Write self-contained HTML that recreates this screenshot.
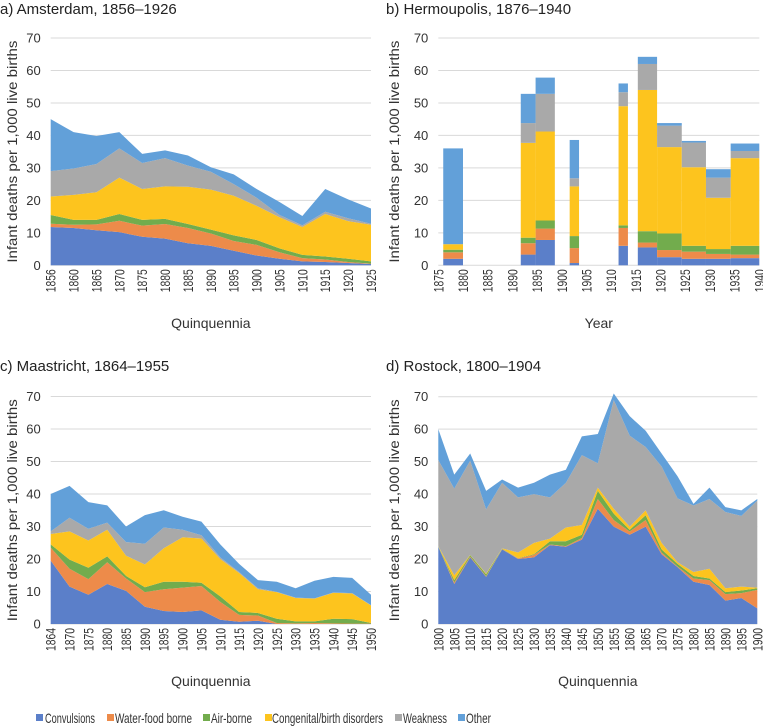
<!DOCTYPE html>
<html><head><meta charset="utf-8"><style>
html,body{margin:0;padding:0;background:#fff;}
svg{display:block;font-family:"Liberation Sans",sans-serif;}
</style></head><body>
<svg id="chart" width="763" height="726" viewBox="0 0 763 726" xmlns="http://www.w3.org/2000/svg"></svg>
<script>
const causes = ["Convulsions","Water-food borne","Air-borne","Congenital/birth disorders","Weakness","Other"];
const colors = ["#5b7fc9","#ed8b4a","#72ac4d","#fdc41e","#a9a9a9","#62a0d9"];
const yTicks = [0,10,20,30,40,50,60,70];

// Amsterdam (cumulative stacked tops, per cause)
const amsCats = ["1856","1860","1865","1870","1875","1880","1885","1890","1895","1900","1905","1910","1915","1920","1925"];
const amsConv  = [11.8,11.5,10.8,10.2,8.8,8.2,6.8,6.0,4.5,3.0,2.0,1.2,1.0,0.7,0.4];
const amsWater = [12.8,12.5,12.6,13.7,12.2,12.7,11.5,9.8,7.5,6.3,4.0,2.2,1.8,1.0,0.5];
const amsAir   = [15.5,14.0,14.0,15.8,14.0,14.3,12.7,11.0,9.2,7.8,5.2,3.2,2.7,2.0,1.2];
const amsCong  = [21.2,21.7,22.5,27.0,23.5,24.3,24.2,23.3,21.4,18.3,14.8,11.8,15.8,13.6,12.5];
const amsWeak  = [29.0,29.8,31.2,36.0,31.5,33.0,30.7,28.8,25.0,20.8,15.5,12.3,16.5,14.5,12.8];
const amsOther = [45.0,41.0,39.8,41.0,34.3,35.4,33.8,30.2,28.0,23.5,19.5,15.2,23.5,20.3,17.5];

// Hermoupolis (year spans, cumulative tops)
const herStart = [1876,1891.7,1894.7,1901.6,1911.5,1915.4,1919.3,1924.3,1929.2,1934.2];
const herEnd   = [1880,1894.7,1898.6,1903.5,1913.4,1919.3,1924.3,1929.2,1934.2,1940];
const herConv  = [2.0,3.3,7.8,0.7,6.0,5.5,2.5,2.0,2.0,2.2];
const herWater = [4.0,6.8,11.3,5.3,11.5,7.0,4.7,4.2,3.5,3.3];
const herAir   = [4.8,8.5,13.8,9.0,12.3,10.5,9.8,6.0,5.0,6.0];
const herCong  = [6.5,37.7,41.2,24.3,49.0,54.0,36.4,30.2,20.8,33.0];
const herWeak  = [6.5,43.8,52.8,26.8,53.3,62.0,43.0,37.8,27.0,35.2];
const herOther = [36.0,52.8,57.8,38.6,56.0,64.2,43.8,38.3,29.6,37.5];
const herTicks = [1875,1880,1885,1890,1895,1900,1905,1910,1915,1920,1925,1930,1935,1940];

// Maastricht
const maaCats = ["1864","1870","1875","1880","1885","1890","1895","1900","1905","1910","1915","1920","1925","1930","1935","1940","1945","1950"];
const maaConv  = [19.5,11.5,9.0,12.3,10.2,5.3,4.0,3.7,4.2,1.3,0.7,1.0,0,0,0,0,0,0];
const maaWater = [23.5,17.0,13.8,19.0,14.0,9.8,10.7,11.2,11.7,6.8,2.8,2.6,0.3,0.2,0.3,0.2,0.1,0.1];
const maaAir   = [24.5,19.8,17.3,20.8,14.8,11.3,13.0,13.0,12.7,8.5,3.7,3.4,1.6,0.8,0.8,1.6,1.5,0.3];
const maaCong  = [27.7,28.5,25.7,29.0,21.0,18.3,23.3,26.7,26.3,20.0,15.7,10.7,9.8,8.0,7.8,9.6,9.4,5.7];
const maaWeak  = [28.5,32.7,29.3,31.2,25.2,24.7,29.7,29.0,27.3,20.5,16.0,11.0,9.9,8.1,7.9,9.7,9.5,5.8];
const maaOther = [40.0,42.5,37.5,36.5,30.0,33.5,35.0,33.0,31.5,24.5,18.5,13.5,13.0,11.0,13.3,14.5,14.2,9.0];

// Rostock
const rosCats = ["1800","1805","1810","1815","1820","1825","1830","1835","1840","1845","1850","1855","1860","1865","1870","1875","1880","1885","1890","1895","1900"];
const rosConv  = [23.8,12.3,20.5,14.5,23.0,20.0,20.5,24.3,23.8,26.0,35.5,30.0,27.5,30.0,21.5,17.5,13.0,12.0,7.2,8.0,4.8];
const rosWater = [23.8,12.8,20.8,14.7,23.1,20.2,21.3,24.5,24.0,26.5,38.5,32.0,28.5,32.0,22.0,17.7,14.0,13.5,9.2,9.5,10.5];
const rosAir   = [23.9,13.5,21.2,15.3,23.2,20.3,21.5,25.5,25.5,27.5,41.0,34.0,29.0,33.5,23.0,18.5,14.8,14.0,9.8,10.3,11.0];
const rosCong  = [24.0,15.0,21.3,15.5,23.3,22.0,25.0,26.3,29.7,30.5,42.0,35.5,30.0,35.0,25.0,19.0,16.0,17.0,11.0,11.5,11.2];
const rosWeak  = [50.5,41.7,50.3,35.3,43.5,39.0,40.0,39.0,43.5,52.0,49.5,69.0,58.0,54.5,48.5,38.7,36.5,38.5,34.5,33.3,38.0];
const rosOther = [60.0,46.0,52.5,41.0,44.5,42.0,43.5,46.0,47.5,57.8,58.5,71.0,64.0,59.5,52.5,45.5,37.0,42.0,36.0,35.0,38.5];

const NS = "http://www.w3.org/2000/svg";
const svg = document.getElementById("chart");
function mk(tag, attrs, parent, txt){
  const e = document.createElementNS(NS, tag);
  for (const k in attrs) e.setAttribute(k, attrs[k]);
  if (txt !== undefined) e.textContent = txt;
  (parent || svg).appendChild(e);
  return e;
}
const slug = s => s.toLowerCase().replace(/[^a-z0-9]+/g,'-').replace(/-$/,'');

function frame(p){
  const g = mk("g", {});
  
  
  const t = mk("text", {x:p.tx, y:p.ty, "font-size":15, fill:"#222"}, g, p.title);
  
  
  const y = v => p.y0 - v * (p.y0 - p.y70) / 70;
  yTicks.forEach(v => {
    const l = mk("line", {x1:p.x0, x2:p.x1, y1:y(v), y2:y(v), stroke:"#d9d9d9", "stroke-width":1}, g);
    
    
    const tl = mk("text", {x:p.x0 - 10, y:y(v) + 4.5, "font-size":13, "text-anchor":"end", fill:"#333"}, g, String(v));
    
    
  });
  const yt = mk("text", {transform:`translate(${p.yx},${(p.y0+p.y70)/2}) rotate(-90)`, "font-size":13.5, "text-anchor":"middle", fill:"#333", textLength:222, lengthAdjust:"spacingAndGlyphs"}, g, "Infant deaths per 1,000 live births");
  
  
  const xt = mk("text", {x:(p.x0+p.x1)/2, y:p.xty, "font-size":14, "text-anchor":"middle", fill:"#333"}, g, p.xtitle);
  
  
  return {g, y};
}
function xLabel(g, x, y0, label){
  const t = mk("text", {transform:`translate(${x+5},${y0+4}) rotate(-90)`, "font-size":14, "text-anchor":"end", fill:"#333", textLength:23, lengthAdjust:"spacingAndGlyphs"}, g, label);
  
  
}
function areaPanel(p, cats, series){
  const {g, y} = frame(p);
  const n = cats.length;
  const x = i => p.x0 + i * (p.x1 - p.x0) / (n - 1);
  series.forEach((s, k) => {
    const prev = k === 0 ? cats.map(() => 0) : series[k-1];
    let d = "";
    s.forEach((v, i) => { d += (i ? "L" : "M") + x(i).toFixed(2) + "," + y(v).toFixed(2); });
    for (let i = n - 1; i >= 0; i--) d += "L" + x(i).toFixed(2) + "," + y(prev[i]).toFixed(2);
    const a = mk("path", {d: d + "Z", fill: colors[k]}, g);
    
    
  });
  cats.forEach((c, i) => xLabel(g, x(i), p.y0, c));
}
function barPanel(p, starts, ends, series, ticks){
  const {g, y} = frame(p);
  const x = yr => p.x0 + (yr - ticks[0]) * (p.x1 - p.x0) / (ticks[ticks.length-1] - ticks[0]);
  series.forEach((s, k) => {
    const prev = k === 0 ? s.map(() => 0) : series[k-1];
    s.forEach((v, i) => {
      const h = y(prev[i]) - y(v);
      if (h <= 0) return;
      const r = mk("rect", {x:x(starts[i]), y:y(v), width:x(ends[i]) - x(starts[i]), height:h, fill:colors[k]}, g);
      
      
    });
  });
  ticks.forEach(t => xLabel(g, x(t), p.y0, String(t)));
}

areaPanel({key:"amsterdam", title:"a) Amsterdam, 1856–1926", tx:0, ty:14, x0:50.7, x1:371, y0:265.3, y70:38, yx:17, xty:328, xtitle:"Quinquennia"},
  amsCats, [amsConv, amsWater, amsAir, amsCong, amsWeak, amsOther]);
barPanel({key:"hermoupolis", title:"b) Hermoupolis, 1876–1940", tx:386, ty:14, x0:438.3, x1:759.3, y0:265.3, y70:38, yx:399, xty:328, xtitle:"Year"},
  herStart, herEnd, [herConv, herWater, herAir, herCong, herWeak, herOther], herTicks);
areaPanel({key:"maastricht", title:"c) Maastricht, 1864–1955", tx:0, ty:371, x0:50.7, x1:371, y0:624, y70:396.5, yx:17, xty:686, xtitle:"Quinquennia"},
  maaCats, [maaConv, maaWater, maaAir, maaCong, maaWeak, maaOther]);
areaPanel({key:"rostock", title:"d) Rostock, 1800–1904", tx:386, ty:371, x0:438.3, x1:757.3, y0:624, y70:396.7, yx:399, xty:686, xtitle:"Quinquennia"},
  rosCats, [rosConv, rosWater, rosAir, rosCong, rosWeak, rosOther]);

// legend
const legSq = [36, 107, 203, 265, 395, 458];
const legTx = [45, 115, 211, 272, 403, 466];
const legW  = [50, 77, 41, 111, 44, 25];
const lg = mk("g", {});


causes.forEach((c, i) => {
  const e = mk("g", {}, lg);
  
  
  mk("rect", {x:legSq[i], y:714, width:7, height:7, fill:colors[i]}, e);
  mk("text", {x:legTx[i], y:723, "font-size":14, fill:"#333", textLength:legW[i], lengthAdjust:"spacingAndGlyphs"}, e, c);
});
</script>
</body></html>
